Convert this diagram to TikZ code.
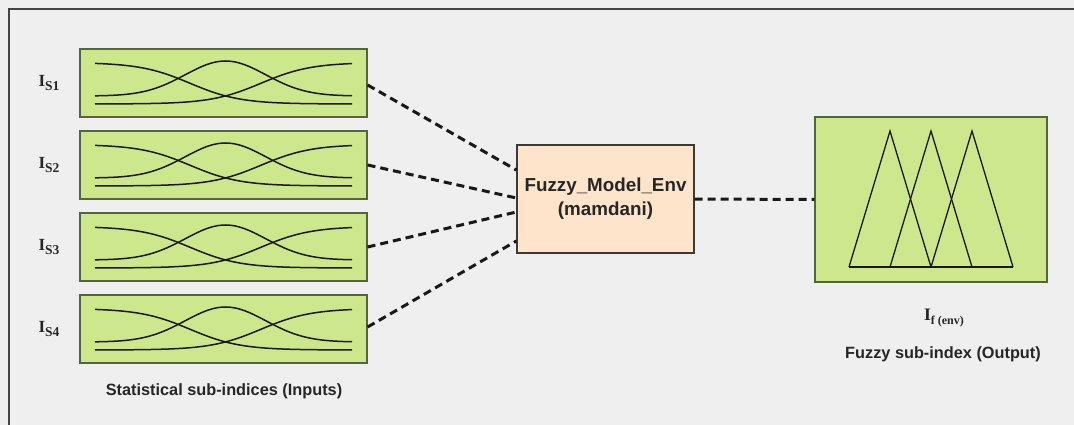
\documentclass[tikz,border=0pt]{standalone}
\usepackage{fontspec}
\setmainfont{Liberation Serif}
\setsansfont{Liberation Sans}
\definecolor{bgc}{HTML}{EFEFEF}
\definecolor{framec}{HTML}{454545}
\definecolor{greenc}{HTML}{CDE88C}
\definecolor{greenb}{HTML}{56633F}
\definecolor{peachc}{HTML}{FDE4CA}
\definecolor{peachb}{HTML}{3A3A3A}
\begin{document}
\begin{tikzpicture}[x=1pt,y=-1pt,
  inbox/.style={draw=greenb,fill=greenc,line width=1.2pt,minimum width=287pt,minimum height=68pt,inner sep=0pt},
  outbox/.style={draw=greenb,fill=greenc,line width=1.2pt,minimum width=232pt,minimum height=165pt,inner sep=0pt},
  cbox/.style={draw=peachb,fill=peachc,line width=1.3pt,minimum width=177pt,minimum height=108pt,inner sep=0pt,align=center,
    font=\sffamily\bfseries\fontsize{18.8pt}{24pt}\selectfont,text=black!85},
  mf/.style={line width=1.5pt,black!90},
  conn/.style={line width=3pt,dash pattern=on 8pt off 5pt,black!90},
  caption/.style={inner sep=0pt,font=\sffamily\bfseries\fontsize{16.3pt}{19pt}\selectfont,text=black!85},
  lab/.style={inner sep=0pt,font=\bfseries,text=black!85}]
\useasboundingbox (0,0) rectangle (1074,425);
\fill[bgc] (0,0) rectangle (1074,425);
\draw[framec,line width=2pt] (9,426) -- (9,9) -- (1075,9);

\foreach \i/\yy in {1/49,2/131,3/213,4/295}{
  \node[inbox] (b\i) at (223.5,\yy+34) {};
  \draw[mf] plot[domain=95:352,samples=80,smooth] (\x,{\yy+13.5+41.5/(1+exp(-(\x-190)/25))});
  \draw[mf] plot[domain=95:352,samples=80,smooth] (\x,{\yy+13.5+41.5/(1+exp((\x-261)/25))});
  \draw[mf] plot[domain=95:352,samples=80,smooth] (\x,{\yy+47-35*exp(-0.5*pow((\x-225.5)/40.3,2))});
  \node[lab] (l\i) at (49,\yy+34) {{\fontsize{17pt}{18pt}\selectfont I}\raisebox{-4.5pt}{\fontsize{13.5pt}{14pt}\selectfont S\i}};
}

\node[cbox] (c) at (605.5,199) {Fuzzy\_Model\_Env\\(mamdani)};

\node[outbox] (o) at (931,199.5) {};
\draw[mf,line width=1.3pt,line join=miter] (849,267) -- (890,131) -- (931,267);
\draw[mf,line width=1.3pt,line join=miter] (890,267) -- (931,131) -- (972,267);
\draw[mf,line width=1.3pt,line join=miter] (931,267) -- (972,131) -- (1013,267);
\draw[mf,line width=1.3pt] (849,267) -- (1013,267);

\draw[conn] ([yshift=-2pt]b1.east) -- ([yshift=29pt]c.west);
\draw[conn] (b2.east) -- ([yshift=1pt]c.west);
\draw[conn] (b3.east) -- ([yshift=-13pt]c.west);
\draw[conn] ([yshift=2pt]b4.east) -- ([yshift=-42pt]c.west);
\draw[conn] (c.east) -- (o.west);

\node[caption] (t1) at (224,391) {Statistical sub-indices (Inputs)};
\node[caption] (t2) at (943,354) {Fuzzy sub-index (Output)};
\node[lab] (t3) at (944,318) {{\fontsize{17.5pt}{18pt}\selectfont I}\raisebox{-4pt}{\fontsize{12pt}{13pt}\selectfont f (env)}};
\end{tikzpicture}
\end{document}
